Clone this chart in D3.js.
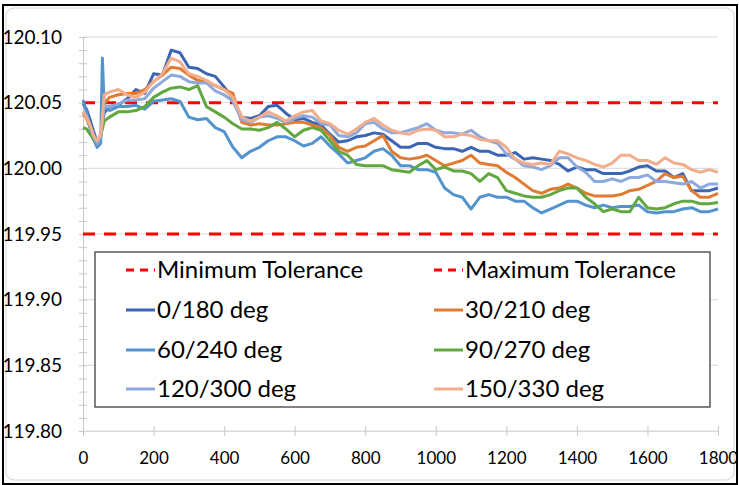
<!DOCTYPE html>
<html lang="en">
<head>
  <meta charset="UTF-8">
  <title>Tolerance chart</title>
  <script src="https://cdnjs.cloudflare.com/ajax/libs/d3/7.8.5/d3.min.js"></script>
  <style>
    body { margin: 0; background: #fff; }
    text { font-family: Lato, "Open Sans", sans-serif; fill: #000; }
  </style>
</head>
<body>
  <script>
var width = 739,
    height = 485;

// sample times (s)
var times = [0, 10, 20, 30, 40, 50, 55, 60, 75,
  100, 125, 150, 175, 200, 225, 250, 275, 300, 325, 350, 375, 400, 425, 450, 475,
  500, 525, 550, 575, 600, 625, 650, 675, 700, 725, 750, 775, 800, 825, 850, 875,
  900, 925, 950, 975, 1000, 1025, 1050, 1075, 1100, 1125, 1150, 1175, 1200, 1225, 1250, 1275,
  1300, 1325, 1350, 1375, 1400, 1425, 1450, 1475, 1500, 1525, 1550, 1575, 1600, 1625, 1650, 1675,
  1700, 1725, 1750, 1775, 1800];

var minTolerance = 119.95,
    maxTolerance = 120.05;

var deg0 = [120.049, 120.045, 120.037, 120.028, 120.020, 120.024, 120.034, 120.042, 120.047,
  120.048, 120.053, 120.060, 120.057, 120.072, 120.071, 120.090, 120.088, 120.077, 120.076, 120.072, 120.070, 120.062, 120.053, 120.039, 120.038,
  120.040, 120.047, 120.048, 120.042, 120.037, 120.038, 120.035, 120.033, 120.026, 120.020, 120.021, 120.024, 120.025, 120.027, 120.026, 120.021,
  120.016, 120.016, 120.019, 120.019, 120.016, 120.015, 120.015, 120.013, 120.016, 120.013, 120.013, 120.010, 120.010, 120.012, 120.007, 120.008,
  120.007, 120.006, 120.003, 119.998, 120.001, 119.999, 119.999, 119.996, 119.996, 119.996, 119.998, 120.001, 120.002, 119.998, 119.998, 119.993,
  119.996, 119.983, 119.983, 119.983, 119.985];

var deg30 = [120.042, 120.038, 120.031, 120.025, 120.020, 120.024, 120.033, 120.049, 120.054,
  120.056, 120.057, 120.057, 120.060, 120.066, 120.071, 120.077, 120.076, 120.071, 120.067, 120.066, 120.063, 120.060, 120.057, 120.035, 120.033,
  120.034, 120.033, 120.033, 120.034, 120.035, 120.035, 120.033, 120.031, 120.025, 120.016, 120.013, 120.016, 120.017, 120.021, 120.025, 120.013,
  120.008, 120.007, 120.008, 120.010, 120.006, 120.002, 120.004, 120.006, 120.010, 120.004, 120.003, 120.002, 119.997, 119.993, 119.988, 119.983,
  119.981, 119.984, 119.985, 119.988, 119.985, 119.981, 119.979, 119.979, 119.979, 119.980, 119.983, 119.984, 119.987, 119.990, 119.996, 119.993,
  119.994, 119.983, 119.978, 119.978, 119.981];

var deg60 = [120.052, 120.043, 120.031, 120.022, 120.016, 120.019, 120.084, 120.047, 120.044,
  120.047, 120.047, 120.048, 120.045, 120.051, 120.052, 120.053, 120.051, 120.039, 120.037, 120.038, 120.031, 120.028, 120.016, 120.008, 120.013,
  120.016, 120.021, 120.024, 120.024, 120.021, 120.017, 120.019, 120.024, 120.017, 120.011, 120.004, 120.006, 120.008, 120.013, 120.015, 120.010,
  120.002, 120.002, 119.999, 119.999, 119.997, 119.985, 119.980, 119.978, 119.969, 119.978, 119.980, 119.978, 119.978, 119.975, 119.975, 119.970,
  119.966, 119.969, 119.972, 119.975, 119.975, 119.972, 119.970, 119.972, 119.970, 119.971, 119.971, 119.972, 119.967, 119.966, 119.967, 119.967,
  119.969, 119.970, 119.967, 119.967, 119.969];

var deg90 = [120.031, 120.030, 120.026, 120.022, 120.019, 120.025, 120.030, 120.036, 120.039,
  120.043, 120.043, 120.044, 120.047, 120.054, 120.058, 120.061, 120.062, 120.060, 120.063, 120.047, 120.043, 120.039, 120.034, 120.030, 120.030,
  120.029, 120.031, 120.035, 120.030, 120.024, 120.029, 120.031, 120.029, 120.021, 120.013, 120.010, 120.003, 120.002, 120.002, 120.002, 119.999,
  119.998, 119.997, 120.002, 120.006, 119.999, 120.001, 119.998, 119.998, 119.996, 119.990, 119.996, 119.993, 119.983, 119.981, 119.979, 119.978,
  119.978, 119.980, 119.983, 119.985, 119.985, 119.978, 119.973, 119.967, 119.969, 119.967, 119.967, 119.978, 119.970, 119.969, 119.970, 119.973,
  119.975, 119.975, 119.973, 119.973, 119.974];

var deg120 = [120.043, 120.040, 120.033, 120.024, 120.019, 120.024, 120.035, 120.047, 120.047,
  120.049, 120.052, 120.052, 120.053, 120.061, 120.066, 120.071, 120.070, 120.066, 120.065, 120.065, 120.059, 120.056, 120.051, 120.037, 120.035,
  120.039, 120.040, 120.038, 120.035, 120.038, 120.040, 120.039, 120.034, 120.033, 120.025, 120.024, 120.027, 120.034, 120.035, 120.030, 120.027,
  120.027, 120.029, 120.031, 120.034, 120.029, 120.027, 120.027, 120.026, 120.029, 120.024, 120.021, 120.019, 120.011, 120.007, 120.002, 120.001,
  119.999, 120.002, 120.008, 120.008, 120.001, 119.997, 119.990, 119.990, 119.992, 119.990, 119.993, 119.993, 119.995, 119.990, 119.990, 119.989,
  119.988, 119.990, 119.985, 119.988, 119.988];

var deg150 = [120.043, 120.039, 120.033, 120.025, 120.021, 120.026, 120.039, 120.056, 120.058,
  120.060, 120.056, 120.054, 120.058, 120.066, 120.072, 120.084, 120.081, 120.072, 120.070, 120.067, 120.063, 120.060, 120.054, 120.039, 120.036,
  120.039, 120.043, 120.040, 120.036, 120.040, 120.043, 120.044, 120.036, 120.034, 120.029, 120.026, 120.030, 120.035, 120.038, 120.033, 120.029,
  120.027, 120.026, 120.029, 120.030, 120.029, 120.024, 120.024, 120.026, 120.025, 120.022, 120.021, 120.021, 120.016, 120.007, 120.004, 120.003,
  120.004, 120.003, 120.013, 120.011, 120.008, 120.006, 120.003, 120.001, 120.004, 120.010, 120.010, 120.006, 120.006, 120.003, 120.008, 120.004,
  120.003, 119.999, 119.997, 119.999, 119.997];

var seriesNames = ["0/180 deg", "30/210 deg", "60/240 deg", "90/270 deg", "120/300 deg", "150/330 deg"];
var seriesValues = [deg0, deg30, deg60, deg90, deg120, deg150];
var seriesColors = ["#3A66B4", "#E07B32", "#5393CE", "#62A840", "#8EA9DB", "#F2AE8C"];

var yTicks = [119.80, 119.85, 119.90, 119.95, 120.00, 120.05, 120.10];
var yMinorTicks = [119.80, 119.81, 119.82, 119.83, 119.84, 119.85, 119.86, 119.87, 119.88, 119.89,
  119.90, 119.91, 119.92, 119.93, 119.94, 119.95, 119.96, 119.97, 119.98, 119.99,
  120.00, 120.01, 120.02, 120.03, 120.04, 120.05, 120.06, 120.07, 120.08, 120.09, 120.10];
var xTicks = [0, 200, 400, 600, 800, 1000, 1200, 1400, 1600, 1800];

var svg = d3.select("body").append("svg")
    .attr("width", width)
    .attr("height", height);

// outer frame
svg.append("rect")
    .attr("x", 6).attr("y", 8).attr("width", 728).attr("height", 472)
    .attr("rx", 8)
    .style("fill", "none").style("stroke", "#d4d4d4").style("stroke-width", 1);
svg.append("rect")
    .attr("x", 3).attr("y", 5).attr("width", 734).attr("height", 479)
    .style("fill", "none").style("stroke", "#000").style("stroke-width", 2);

var x = d3.scaleLinear().domain([0, 1800]).range([83, 718]);
var y = d3.scaleLinear().domain([119.80, 120.10]).range([431, 37]);

// gridlines
svg.append("g").selectAll("line")
    .data(yTicks)
  .enter().append("line")
    .attr("x1", x(0)).attr("x2", x(1800))
    .attr("y1", function(d) { return y(d); })
    .attr("y2", function(d) { return y(d); })
    .style("stroke", "#d9d9d9").style("stroke-width", 1);

// y axis with minor ticks
var yMinor = svg.append("g")
    .attr("transform", "translate(" + x(0) + ",0)")
    .call(d3.axisLeft(y).tickValues(yMinorTicks).tickSize(4).tickSizeOuter(0).tickFormat(""));
yMinor.selectAll("line").attr("x2", -4).attr("x1", 4).style("stroke", "#c8c8c8");
yMinor.select(".domain").style("stroke", "#c8c8c8");

svg.append("g").selectAll("text")
    .data(yTicks)
  .enter().append("text")
    .attr("x", 62)
    .attr("y", function(d) { return y(d); })
    .attr("dy", "0.35em")
    .attr("text-anchor", "end")
    .style("font-size", "19px")
    .text(function(d) { return d.toFixed(2); });

// x axis
var xAxis = svg.append("g")
    .attr("transform", "translate(0," + y(119.80) + ")")
    .call(d3.axisBottom(x).tickValues(xTicks).tickSize(5).tickSizeOuter(0)
      .tickPadding(16).tickFormat(d3.format("d")));
xAxis.select(".domain").style("stroke", "#d9d9d9");
xAxis.selectAll(".tick line").attr("y1", -5).style("stroke", "#c8c8c8");
xAxis.selectAll("text")
    .style("font-family", "Lato, sans-serif")
    .style("font-size", "17px")
    .style("fill", "#000");

// tolerance lines
var tol = [minTolerance, maxTolerance];
svg.append("g").selectAll("line")
    .data(tol)
  .enter().append("line")
    .attr("x1", x(0)).attr("x2", x(1800))
    .attr("y1", function(d) { return y(d); })
    .attr("y2", function(d) { return y(d); })
    .style("stroke", "#ff0000").style("stroke-width", 3)
    .style("stroke-dasharray", "12,9");

var line = d3.line()
    .x(function(d, i) { return x(times[i]); })
    .y(function(d) { return y(d); });

svg.append("g").selectAll("path")
    .data(seriesValues)
  .enter().append("path")
    .attr("d", line)
    .style("fill", "none")
    .style("stroke", function(d, i) { return seriesColors[i]; })
    .style("stroke-width", 3)
    .style("stroke-linejoin", "round");

// legend
var legend = svg.append("g");
legend.append("rect")
    .attr("x", 95).attr("y", 252).attr("width", 615).attr("height", 155)
    .style("fill", "#fff").style("stroke", "#404040").style("stroke-width", 1.3);

var legendItems = ["Minimum Tolerance", "Maximum Tolerance"].concat(seriesNames);
var legendColors = ["#ff0000", "#ff0000"].concat(seriesColors);
var rowY = [270, 310, 350, 389];
var colX = [126, 434];

var item = legend.selectAll(".item")
    .data(legendItems)
  .enter().append("g")
    .attr("transform", function(d, i) { return "translate(" + colX[i % 2] + "," + rowY[Math.floor(i / 2)] + ")"; });

item.append("line")
    .attr("x1", 0).attr("x2", 29)
    .style("stroke", function(d, i) { return legendColors[i]; })
    .style("stroke-width", 3)
    .style("stroke-dasharray", function(d, i) { return i < 2 ? "8,6" : null; });

item.append("text")
    .attr("x", 31)
    .attr("dy", "0.35em")
    .style("font-size", "24px")
    .text(function(d) { return d; });
  </script>
</body>
</html>
